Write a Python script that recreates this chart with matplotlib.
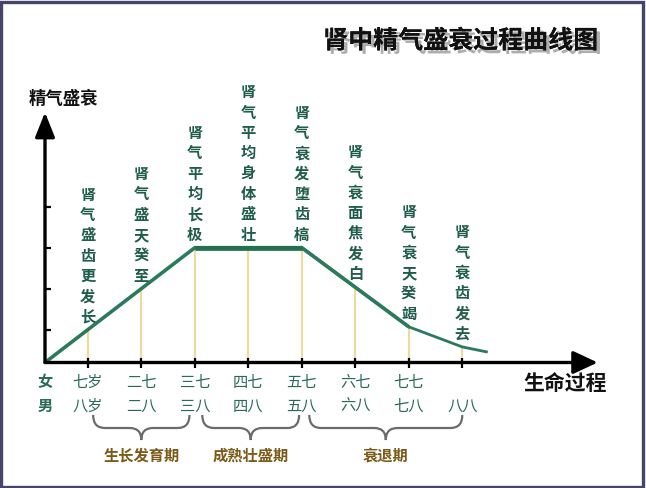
import numpy as np
import matplotlib
matplotlib.use("Agg")
import matplotlib.pyplot as plt
from matplotlib.path import Path
from matplotlib.patches import PathPatch, Rectangle
import matplotlib.patheffects as pe

plt.rcParams['font.family'] = ['Noto Sans CJK SC', 'DejaVu Sans']

# ---------------- data ----------------
title = "肾中精气盛衰过程曲线图"
y_label = "精气盛衰"
x_label = "生命过程"
tick_x = [0.8, 1.8, 2.8, 3.8, 4.8, 5.8, 6.8, 7.8]
female_labels = ["七岁", "二七", "三七", "四七", "五七", "六七", "七七"]
male_labels = ["八岁", "二八", "三八", "四八", "五八", "六八", "七八", "八八"]
notes = ["肾气盛齿更发长", "肾气盛天癸至", "肾气平均长极", "肾气平均身体盛壮",
         "肾气衰发堕齿槁", "肾气衰面焦发白", "肾气衰天癸竭", "肾气衰齿发去"]
curve_x = [0.0, 2.8, 4.8, 6.8, 7.8, 8.25]
curve_y = [0.0, 2.8, 2.8, 0.87, 0.38, 0.26]
y_ticks = [0.8, 1.8, 2.8, 3.8]
stages = ["生长发育期", "成熟壮盛期", "衰退期"]
stage_spans = [(0, 2), (2, 4), (4, 7)]   # tick index ranges

# ---------------- layout ----------------
SX, SY = 53.5, 41.0        # pixels per data unit
OX, OY = 45.0, 362.5       # origin in pixels (from top-left)
W, H = 646, 488

fig = plt.figure(figsize=(W / 100, H / 100), dpi=100)
fig.patch.set_facecolor("white")
ax = fig.add_axes([0, 0, 1, 1])
ax.set_xlim(-OX / SX, (W - OX) / SX)
ax.set_ylim(-(H - OY) / SY, OY / SY)
ax.axis("off")

# frame
fig.patches.append(Rectangle((0.002, 0.003), 0.994, 0.992, transform=fig.transFigure,
                             fill=False, edgecolor="#46446b", lw=2.4, zorder=0))

green = "#2b7a5c"
txt_green = "#1f5c4b"
row_green = "#2a6b58"
brown = "#7a5a18"

# yellow guide lines
tick_vals = np.interp(tick_x, curve_x, curve_y)
ax.vlines(tick_x, 0, tick_vals, colors="#eadb9e", lw=1.6, zorder=1)

# curve
ax.plot(curve_x[:4], curve_y[:4], color=green, lw=2.6, solid_capstyle="butt", zorder=3)
ax.plot(curve_x[3:], curve_y[3:], color=green, lw=2.0, zorder=3)
ax.plot(curve_x[2:4], curve_y[2:4], color=green, lw=2.2, zorder=3)
ax.plot(curve_x[1:3], curve_y[1:3], color="#237050", lw=3.4, solid_capstyle="butt", zorder=3)

# axes with arrows
ax.annotate("", xy=(10.33, 0), xytext=(0, 0),
            arrowprops=dict(arrowstyle="-|>,head_length=0.75,head_width=0.35", lw=2.4,
                            color="black", shrinkA=0, shrinkB=0, mutation_scale=20), zorder=4)
ax.annotate("", xy=(0, 6.1), xytext=(0, 0),
            arrowprops=dict(arrowstyle="-|>,head_length=0.75,head_width=0.3", lw=2.4,
                            color="black", shrinkA=0, shrinkB=0, mutation_scale=20), zorder=4)
ax.plot(tick_x, [0] * len(tick_x), ls="none", marker="|", ms=7, mew=1.6, color="black", zorder=5)
ax.plot([0.06] * len(y_ticks), y_ticks, ls="none", marker="_", ms=5, mew=1.6, color="black", zorder=5)

# axis labels and title
ax.text(0.34, 6.42, y_label, ha="center", va="center", fontsize=12.5, fontweight="bold", color="#111111")
ax.text(9.72, -0.5, x_label, ha="center", va="center", fontsize=15, fontweight="bold", color="#111111")
ax.text(7.77, 7.84, title, ha="center", va="center", fontsize=18, fontweight="bold", color="#111111",
        path_effects=[pe.withSimplePatchShadow(offset=(2.5, -2.5), shadow_rgbFace="#777777", alpha=0.6),
                      pe.Normal()])

# vertical notes
step = 20.3 / SY
for x, v, s in zip(tick_x, tick_vals, notes):
    base = v + 0.32
    n = len(s)
    for i, ch in enumerate(s):
        ax.text(x, base + (n - 1 - i) * step, ch, ha="center", va="center",
                fontsize=11, fontweight="bold", color=txt_green)

# row labels
row1_y = -(382.5 - OY) / SY
row2_y = -(406.0 - OY) / SY
ax.text(0, row1_y, "女", ha="center", va="center", fontsize=11, fontweight="bold", color=row_green)
ax.text(0, row2_y, "男", ha="center", va="center", fontsize=11, fontweight="bold", color=row_green)
for x, s in zip(tick_x, female_labels):
    ax.text(x, row1_y, s, ha="center", va="center", fontsize=11, color=row_green)
for x, s in zip(tick_x, male_labels):
    ax.text(x, row2_y, s, ha="center", va="center", fontsize=11, color=row_green)

# braces
ytop = -(415 - OY) / SY
ymid = -(428 - OY) / SY
ytip = -(440 - OY) / SY
lab_y = -(456 - OY) / SY
r = 0.22
for (i0, i1), lab in zip(stage_spans, stages):
    x0 = tick_x[i0] + (0.1 if i0 == 0 else 0.14)
    x1 = tick_x[i1] - (0.1 if i1 == 2 else (0.05 if i1 == 4 else 0.0))
    xm = (x0 + x1) / 2
    verts = [(x0, ytop), (x0, ymid), (x0 + r, ymid), (xm - r, ymid), (xm, ymid), (xm, ytip),
             (xm, ymid), (xm + r, ymid), (x1 - r, ymid), (x1, ymid), (x1, ytop)]
    codes = [Path.MOVETO, Path.CURVE3, Path.CURVE3, Path.LINETO, Path.CURVE3, Path.CURVE3,
             Path.CURVE3, Path.CURVE3, Path.LINETO, Path.CURVE3, Path.CURVE3]
    ax.add_patch(PathPatch(Path(verts, codes), fill=False, edgecolor="#6b6b6b", lw=1.6))
    ax.text(xm, lab_y, lab, ha="center", va="center", fontsize=11, fontweight="bold", color=brown)

fig.savefig("out.png", dpi=100, facecolor="white")
